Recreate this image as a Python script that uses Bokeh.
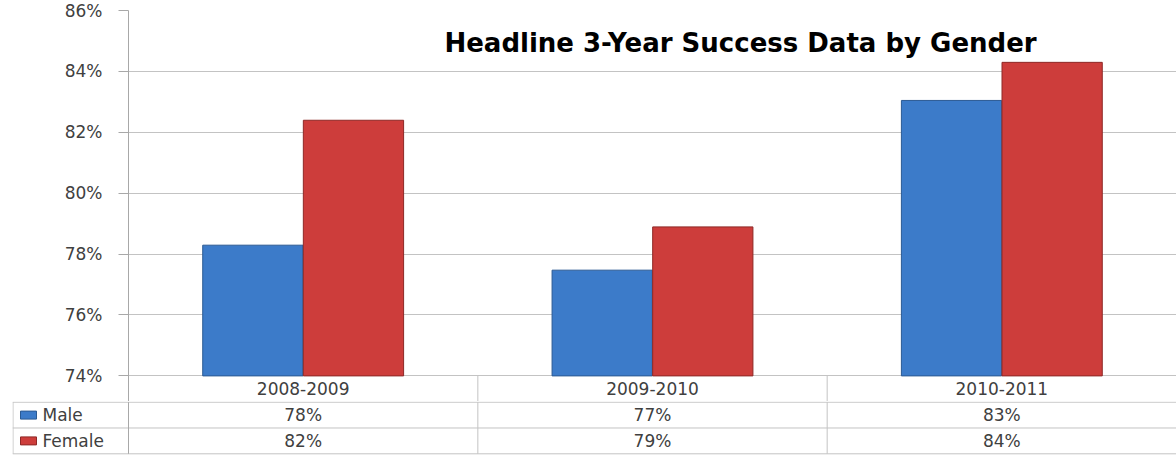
from bokeh.plotting import figure
from bokeh.layouts import column
from bokeh.models import FactorRange, Range1d, FixedTicker, ColumnDataSource, Label
from bokeh.transform import dodge
from bokeh.core.properties import value
from bokeh.embed import file_html
from bokeh.resources import INLINE

# ---------------- data ----------------
categories = ["2008-2009", "2009-2010", "2010-2011"]
male = [78.29, 77.47, 83.04]
female = [82.39, 78.89, 84.29]
series_names = ["Male", "Female"]
y_ticks = [74, 76, 78, 80, 82, 84, 86]
grid_ticks = [74, 76, 78, 80, 82, 84]
title_text = "Headline 3-Year Success Data by Gender"

# ---------------- layout / style constants ----------------
W = 1176
LEFT = 128            # width of the axis / legend column in px
LEFT_COL = 116        # width of the legend cells in the table (px)
TOP_H = 401
BOT_H = 54
BASE = 74.0           # axis minimum
Y_TOP = 86.32
Y_BOTTOM = 73.16      # bottom of the category-label row
FONT = "DejaVu Sans"
TXT = "#404040"
GRID = "#c3c3c3"
AXIS = "#a8a8a8"
MALE_FILL, MALE_LINE = "#3c7bc9", "#2b5a93"
FEM_FILL, FEM_LINE = "#cd3d3b", "#8e2826"
OFF = 0.144
BAR_W = 0.287

n = len(categories)

# ================= main chart =================
p = figure(width=W, height=TOP_H, x_range=FactorRange(factors=categories, range_padding=0),
           y_range=Range1d(Y_BOTTOM, Y_TOP), x_axis_location=None,
           toolbar_location=None, output_backend="svg",
           min_border_left=LEFT, min_border_right=0, min_border_top=0, min_border_bottom=0)
p.frame_align = False
p.outline_line_color = None
p.background_fill_color = "white"
p.border_fill_color = "white"
p.xgrid.visible = False
p.ygrid.ticker = FixedTicker(ticks=grid_ticks)
p.ygrid.grid_line_color = GRID
p.ygrid.grid_line_width = 1

ax = p.yaxis[0]
ax.ticker = FixedTicker(ticks=y_ticks)
ax.major_label_overrides = {t: f"{t}%" for t in y_ticks}
ax.bounds = (Y_BOTTOM - 1, y_ticks[-1])
ax.axis_line_color = AXIS
ax.major_tick_line_color = AXIS
ax.major_tick_out = 10
ax.major_tick_in = 0
ax.minor_tick_line_color = None
ax.major_label_standoff = 16
ax.major_label_text_font = FONT
ax.major_label_text_font_size = "17px"
ax.major_label_text_color = TXT

src = ColumnDataSource(dict(cat=categories, male=male, female=female))
p.vbar(x=dodge("cat", -OFF, range=p.x_range), top="male", bottom=BASE, width=BAR_W,
       source=src, fill_color=MALE_FILL, line_color=MALE_LINE, line_width=1)
p.vbar(x=dodge("cat", OFF, range=p.x_range), top="female", bottom=BASE, width=BAR_W,
       source=src, fill_color=FEM_FILL, line_color=FEM_LINE, line_width=1)

# category-label row of the data table
p.segment(x0=list(range(1, n)), x1=list(range(1, n)), y0=[BASE] * (n - 1),
          y1=[Y_BOTTOM] * (n - 1), line_color=GRID, line_width=1)
p.text(x=categories, y=[(BASE + Y_BOTTOM) / 2] * n, text=categories, text_font=value(FONT),
       text_font_size="17px", text_align="center", text_baseline="middle", text_color=TXT)

p.add_layout(Label(x=1.752, y=84.91, text=title_text, text_font=FONT, text_font_size="26px",
                   text_font_style="bold", text_color="black", text_align="center",
                   text_baseline="middle"))

# ================= data-table rows (Male / Female) =================
CAT_PX = (W - LEFT) / n
x0 = -LEFT_COL / CAT_PX
q = figure(width=W, height=BOT_H, x_range=Range1d(x0, n), y_range=Range1d(-0.066, 2.027),
           x_axis_location=None, y_axis_location=None, toolbar_location=None,
           output_backend="svg", min_border_left=LEFT - LEFT_COL,
           min_border_right=0, min_border_top=0, min_border_bottom=0)
q.frame_align = False
q.outline_line_color = None
q.xgrid.visible = False
q.ygrid.visible = False
q.background_fill_color = "white"
q.border_fill_color = "white"

# horizontal rules (row borders)
q.segment(x0=[x0] * 3, x1=[n] * 3, y0=[0, 1, 2], y1=[0, 1, 2], line_color=GRID, line_width=1)
# vertical rules: left border, axis continuation, category boundaries
edge = x0 + 0.5 / CAT_PX
vx = [edge, 0] + list(range(1, n))
q.segment(x0=vx, x1=vx, y0=[0] * len(vx), y1=[2] * len(vx),
          line_color=[GRID, AXIS] + [GRID] * (n - 1), line_width=1)

rows_y = [1.5, 0.5]          # Male row, Female row
fills = [MALE_FILL, FEM_FILL]
lines = [MALE_LINE, FEM_LINE]
q.rect(x=[x0 + 16 / CAT_PX] * 2, y=rows_y, width=16, height=8, width_units="screen",
       height_units="screen", fill_color=fills, line_color=lines, line_width=1)
q.text(x=[x0 + 30 / CAT_PX] * 2, y=rows_y, text=series_names, text_font=value(FONT),
       text_font_size="17px", text_align="left", text_baseline="middle", text_color=TXT)

centers = [i + 0.5 for i in range(n)]
q.text(x=centers * 2, y=[rows_y[0]] * n + [rows_y[1]] * n,
       text=[f"{round(v)}%" for v in male] + [f"{round(v)}%" for v in female],
       text_font=value(FONT), text_font_size="17px", text_align="center",
       text_baseline="middle", text_color=TXT)

layout = column(p, q, spacing=0)
open("out.html", "w").write(file_html(layout, INLINE))
